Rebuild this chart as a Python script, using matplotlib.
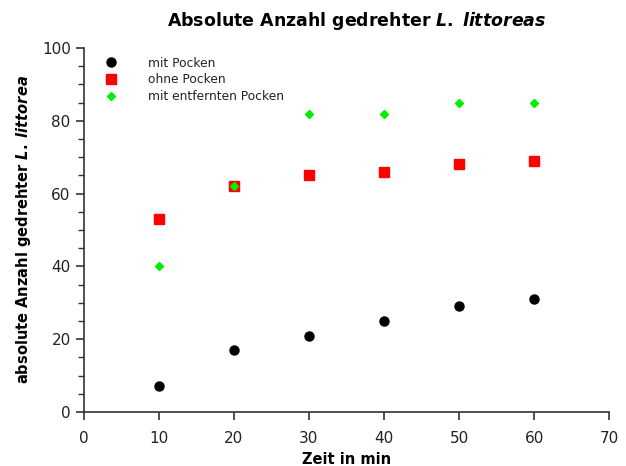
import matplotlib
matplotlib.use("Agg")
import matplotlib.pyplot as plt
from matplotlib.ticker import MultipleLocator

plt.rcParams['font.family'] = ['DejaVu Sans']
plt.rcParams['mathtext.fontset'] = 'custom'
plt.rcParams['mathtext.it'] = 'DejaVu Sans:bold:italic'
plt.rcParams['mathtext.rm'] = 'DejaVu Sans:bold'

zeit = [10, 20, 30, 40, 50, 60]
mit_pocken = [7, 17, 21, 25, 29, 31]
ohne_pocken = [53, 62, 65, 66, 68, 69]
mit_entfernten = [40, 62, 82, 82, 85, 85]

fig = plt.figure(figsize=(6.26, 4.66), dpi=100)
ax = fig.add_axes([0.134, 0.116, 0.839, 0.781])

ax.plot(zeit, mit_pocken, 'o', color='black', ms=6.5, label='mit Pocken', zorder=3)
ax.plot(zeit, ohne_pocken, 's', color='#ff0000', ms=7, label='ohne Pocken', zorder=3)
ax.plot(zeit, mit_entfernten, 'D', color='#00ee00', ms=4.5, label='mit entfernten Pocken', zorder=4)

ax.set_xlim(0, 70)
ax.set_ylim(0, 100)
ax.xaxis.set_major_locator(MultipleLocator(10))
ax.yaxis.set_major_locator(MultipleLocator(20))
ax.yaxis.set_minor_locator(MultipleLocator(5))
for s in ['top', 'right']:
    ax.spines[s].set_visible(False)
for s in ['left', 'bottom']:
    ax.spines[s].set_color('#333333')
    ax.spines[s].set_linewidth(1.2)
ax.tick_params(axis='both', which='major', direction='out', length=6, width=1.2,
               color='#333333', labelsize=11, labelcolor='#222222')
ax.tick_params(axis='x', which='major', pad=8)
ax.tick_params(axis='y', which='minor', direction='out', length=4, width=1.0, color='#333333')

ax.set_xlabel('Zeit in min', fontsize=10.5, fontweight='bold', labelpad=4)
ax.set_ylabel(r'absolute Anzahl gedrehter $\mathit{L.\;littorea}$', fontsize=10.5,
              fontweight='bold', labelpad=6)
ax.set_title(r'Absolute Anzahl gedrehter $\mathit{L.\;littoreas}$', fontsize=12.5,
             fontweight='bold', pad=16, x=0.52)

leg = ax.legend(loc='upper left', frameon=False, fontsize=8.8, handletextpad=2.0,
                labelspacing=0.3, borderaxespad=0.0, bbox_to_anchor=(0.02, 0.99))
for t in leg.get_texts():
    t.set_color('#222222')

fig.savefig('out.png', dpi=100)
